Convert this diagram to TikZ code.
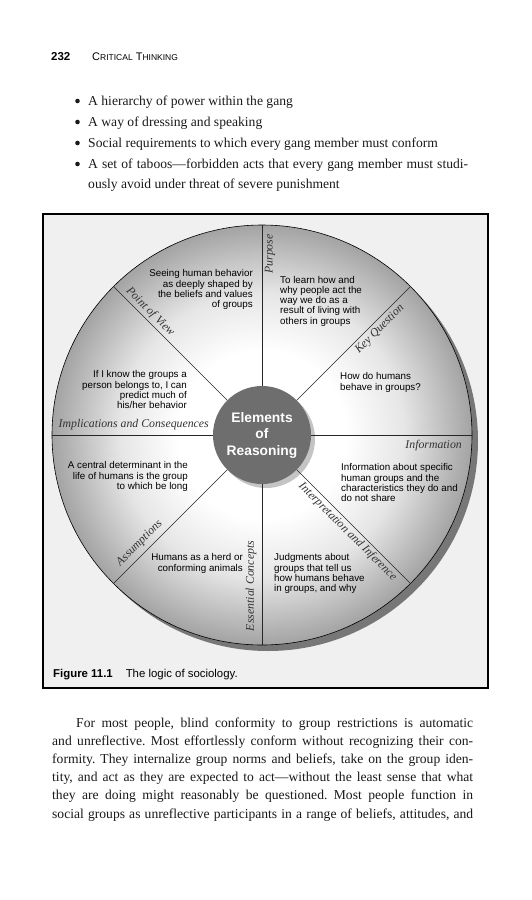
\documentclass[tikz,border=0pt]{standalone}
\usepackage{fontspec}
\setmainfont{Liberation Serif}
\setsansfont{Liberation Sans}
\newfontfamily\lsans{Liberation Sans}
\usetikzlibrary{calc}
\definecolor{framebg}{HTML}{F0F0F0}
\definecolor{rimshadow}{HTML}{777777}
\definecolor{hubgray}{HTML}{6E6E6E}
\definecolor{hubshadow}{HTML}{C4C4C4}
\definecolor{labelgray}{HTML}{333333}
\definecolor{inkcol}{HTML}{1A1A1A}
\pgfdeclareradialshading{wheelshade}{\pgfpoint{0bp}{0bp}}{color(0bp)=(white); color(10bp)=(white); color(17bp)=(black!10); color(25bp)=(black!36); color(50bp)=(black!36)}
\begin{document}
\frenchspacing
\begin{tikzpicture}[x=1pt,y=1pt,
  sectortext/.style={font=\lsans\fontsize{9.8}{10.2}\selectfont, inner sep=0pt, text=black},
  elemlabel/.style={font=\fontsize{11.8}{12}\selectfont\itshape, text=labelgray, inner sep=0pt},
  spoke/.style={line width=0.6pt, draw=black!85},
  bodyline/.style={font=\fontsize{13.6}{16}\selectfont, inner sep=0pt, anchor=base west, text=inkcol},
  bulletdot/.style={circle, fill=inkcol, inner sep=0pt, minimum size=4.6pt},
]
\useasboundingbox (0,0) rectangle (531,-900);
\fill[white] (0,0) rectangle (531,-900);

% running head
\node[anchor=base west, inner sep=0pt, font=\lsans\bfseries\fontsize{11.5}{12}\selectfont] (pagenum) at (51,-60) {232};
\node[anchor=base west, inner sep=0pt, font=\lsans\fontsize{11}{12}\selectfont] (runhead) at (92,-60) {C{\fontsize{8.5}{10}\selectfont RITICAL} T{\fontsize{8.5}{10}\selectfont HINKING}};

% bullets
\node[bulletdot] (b1) at (77.5,-101) {};
\node[bulletdot] (b2) at (77.5,-122) {};
\node[bulletdot] (b3) at (77.5,-143) {};
\node[bulletdot] (b4) at (77.5,-164) {};
\node[bodyline] (t1) at (88,-105) {A hierarchy of power within the gang};
\node[bodyline] (t2) at (88,-126) {A way of dressing and speaking};
\node[bodyline] (t3) at (88,-147) {Social requirements to which every gang member must conform};
\node[bodyline] (t4) at (88,-168) {\makebox[380pt][s]{A set of taboos—forbidden acts that every gang member must studi-}};
\node[bodyline] (t5) at (88,-188) {ously avoid under threat of severe punishment};

% figure frame
\draw[line width=1.2pt, fill=framebg] (43,-214) rectangle (488,-688);

% wheel
\coordinate (C) at (262,-435);
\fill[rimshadow] ($(C)+(6,-6)$) circle (210);
\node[circle, minimum size=420pt, inner sep=0pt, shading=wheelshade, draw=black, line width=0.6pt] (wheel) at (C) {};
\fill[hubshadow] ($(C)+(4,-4)$) circle (49);
\node[circle, fill=hubgray, minimum size=98pt, inner sep=0pt, text=white, align=center,
      font=\lsans\bfseries\fontsize{13.8}{16.5}\selectfont] (hub) at (C) {Elements\\of\\Reasoning};
\foreach \a in {0,45,...,315} \draw[spoke] (hub.\a) -- (wheel.\a);

% element labels
\node[elemlabel, rotate=90] (purpose) at ($(C)+(90:181)+(0:8)$) {Purpose};
\node[elemlabel, rotate=45] (keyq) at ($(C)+(45:158)+(-45:8.5)$) {Key Question};
\node[elemlabel, anchor=base east] (info) at (462,-448) {Information};
\node[elemlabel, rotate=-45] (interp) at ($(C)+(315:129)+(225:8)$) {Interpretation and Inference};
\node[elemlabel, rotate=90] (concepts) at ($(C)+(270:151)+(180:11)$) {Essential Concepts};
\node[elemlabel, rotate=45] (assump) at ($(C)+(225:163)+(135:10)$) {Assumptions};
\node[elemlabel, anchor=base east] (implic) at (209,-427) {Implications and Consequences};
\node[elemlabel, rotate=-45] (pov) at ($(C)+(135:166)+(45:8)$) {Point of View};

% sector texts
\node[sectortext, anchor=north east, align=right] (povtext) at (253,-269.5) {Seeing human behavior\\as deeply shaped by\\the beliefs and values\\of groups};
\node[sectortext, anchor=north west, align=left] (purptext) at (280,-276) {To learn how and\\why people act the\\way we do as a\\result of living with\\others in groups};
\node[sectortext, anchor=north west, align=left] (keyqtext) at (340,-372.5) {How do humans\\behave in groups?};
\node[sectortext, anchor=north east, align=right] (implictext) at (187,-370.5) {If I know the groups a\\person belongs to, I can\\predict much of\\his/her behavior};
\node[sectortext, anchor=north west, align=left] (infotext) at (341,-463.5) {Information about specific\\human groups and the\\characteristics they do and\\do not share};
\node[sectortext, anchor=north west, align=left] (interptext) at (274,-553.5) {Judgments about\\groups that tell us\\how humans behave\\in groups, and why};
\node[sectortext, anchor=north east, align=right] (concepttext) at (243,-553.5) {Humans as a herd or\\conforming animals};
\node[sectortext, anchor=north east, align=right] (assumptext) at (188,-461.5) {A central determinant in the\\life of humans is the group\\to which be long};

% caption
\node[anchor=base west, inner sep=0pt, font=\lsans\fontsize{11.4}{12}\selectfont] (caption) at (53,-677) {\textbf{Figure 11.1}\hspace{13pt}The logic of sociology.};

% body paragraph
\node[bodyline] (p1) at (76,-727) {\makebox[397pt][s]{For most people, blind conformity to group restrictions is automatic}};
\node[bodyline] (p2) at (52,-745.2) {\makebox[421pt][s]{and unreflective. Most effortlessly conform without recognizing their con-}};
\node[bodyline] (p3) at (52,-763.4) {\makebox[421pt][s]{formity. They internalize group norms and beliefs, take on the group iden-}};
\node[bodyline] (p4) at (52,-781.6) {\makebox[421pt][s]{tity, and act as they are expected to act—without the least sense that what}};
\node[bodyline] (p5) at (52,-799.8) {\makebox[421pt][s]{they are doing might reasonably be questioned. Most people function in}};
\node[bodyline] (p6) at (52,-818) {\makebox[421pt][s]{social groups as unreflective participants in a range of beliefs, attitudes, and}};
\end{tikzpicture}
\end{document}
